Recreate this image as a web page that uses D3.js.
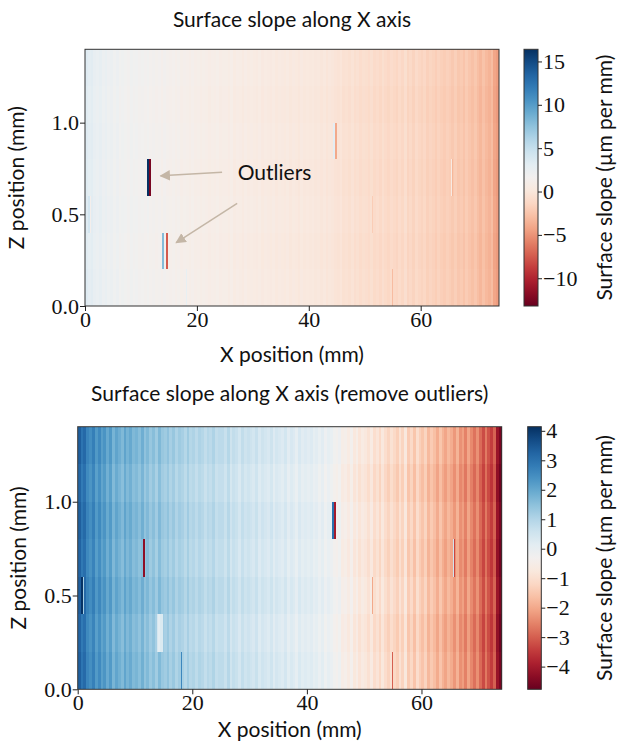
<!DOCTYPE html>
<html>
<head>
<meta charset="utf-8">
<script src="https://d3js.org/d3.v7.min.js"></script>
<style>
  body { margin: 0; background: #fff; }
  .tick text { font-family: "Liberation Serif", "Times New Roman", serif; font-size: 22px; fill: #111; }
  .tick line { stroke: #222; }
  .domain { display: none; }
  .lbl { font-family: Lato, "Open Sans", sans-serif; font-size: 21px; fill: #111; }
  .cell { shape-rendering: crispEdges; }
</style>
</head>
<body>
<svg id="fig" width="618" height="750"></svg>
<script>
// slope data: 0.5 mm wide strips along X, 7 rows of 0.2 mm along Z
var stripWidth = 0.5;
var rowEdges = [0, 0.2, 0.4, 0.6, 0.8, 1.0, 1.2, 1.4];

// mean slope per strip (um per mm)
var profile = [
  3.3, 2.9, 3.1, 2.6, 2.4, 2.7, 2.2, 2.5, 2.1, 2.3,
  1.9, 2.2, 1.7, 2.0, 1.8, 1.6, 2.0, 1.7, 1.9, 1.6,
  1.7, 1.5, 1.8, 1.4, 1.6, 1.3, 1.5, 1.2, 1.6, 1.3,
  1.2, 1.4, 1.1, 1.3, 1.0, 1.2, 1.1, 0.9, 1.2, 0.9,
  1.0, 0.8, 1.0, 0.9, 0.7, 0.9, 0.8, 1.0, 0.7, 0.8,
  0.8, 0.6, 0.9, 0.5, 0.7, 0.6, 0.4, 0.7, 0.5, 0.6,
  0.5, 0.4, 0.6, 0.3, 0.5, 0.4, 0.3, 0.5, 0.2, 0.4,
  0.3, 0.2, 0.4, 0.1, 0.3, 0.2, 0.0, 0.3, 0.1, 0.2,
  0.1, 0.2, 0.0, 0.1, -0.1, 0.1, -0.2, 0.0, -0.1, -0.3,
  -0.4, -0.2, -0.6, -0.5, -0.7, -0.4, -0.8, -0.6, -0.9, -0.7,
  -0.8, -1.0, -0.7, -1.1, -0.9, -1.2, -0.8, -1.1, -1.3, -1.0,
  -1.2, -1.4, -1.0, -1.3, -0.8, -1.5, -1.2, -1.6, -1.1, -1.4,
  -1.6, -1.3, -1.8, -1.5, -1.7, -2.0, -1.6, -1.9, -2.1, -1.8,
  -2.0, -2.3, -1.9, -2.4, -2.2, -2.6, -2.1, -2.5, -2.8, -2.4,
  -2.9, -3.3, -2.7, -3.2, -3.5, -3.0, -4.2, -4.6
];
// small offset of each Z row
var rowShift = [0.04, -0.05, 0.08, -0.03, 0.05, -0.07, 0.06];

// narrow features visible in both panels
var spikes = [
  {row: 2, x0: 0.6, x1: 0.85, v: 4.1},
  {row: 2, x0: 0.85, x1: 1.05, v: 1.2},
  {row: 0, x0: 18.0, x1: 18.2, v: 2.6},
  {row: 4, x0: 44.4, x1: 44.7, v: 3.0},
  {row: 4, x0: 44.7, x1: 45.0, v: -4.0},
  {row: 2, x0: 51.3, x1: 51.5, v: -2.0},
  {row: 0, x0: 54.8, x1: 55.0, v: -3.0},
  {row: 3, x0: 65.45, x1: 65.6, v: 0.5},
  {row: 3, x0: 65.6, x1: 65.8, v: -3.3}
];
// outliers: raw value (upper panel) and value after removal (lower panel)
var outliers = [
  {row: 3, x0: 11.0, x1: 11.4, raw: 16.4, cleaned: 1.6},
  {row: 3, x0: 11.4, x1: 11.8, raw: -12.5, cleaned: -4.3},
  {row: 1, x0: 13.8, x1: 14.1, raw: 8.0, cleaned: 0.4},
  {row: 1, x0: 14.1, x1: 14.4, raw: 1.6, cleaned: 0.1},
  {row: 1, x0: 14.4, x1: 14.8, raw: -7.5, cleaned: 0.3}
];

var xTicks = [0, 20, 40, 60];
var zTicks = [0, 0.5, 1.0];
var cbarTopRange = [-13.2, 16.4];
var cbarTopTicks = [-10, -5, 0, 5, 10, 15];
var cbarBottomRange = [-4.77, 4.14];
var cbarBottomTicks = [-4, -3, -2, -1, 0, 1, 2, 3, 4];
var xDomain = [0, 74];

// annotation in data coords of the upper panel
var labelPos = {x: 27.3, z: 0.725, text: "Outliers"};
var arrows = [
  {x0: 24.5, z0: 0.73, x1: 13.5, z1: 0.71},
  {x0: 27.2, z0: 0.56, x1: 16.3, z1: 0.345}
];

var baseCells = [];
rowShift.forEach(function (s, j) {
  profile.forEach(function (v, i) {
    baseCells.push({x0: i * stripWidth, x1: (i + 1) * stripWidth, z0: rowEdges[j], z1: rowEdges[j + 1], v: v + s});
  });
});
function extraCells(useRaw) {
  var out = spikes.map(function (d) {
    return {x0: d.x0, x1: d.x1, z0: rowEdges[d.row], z1: rowEdges[d.row + 1], v: d.v};
  });
  outliers.forEach(function (d) {
    out.push({x0: d.x0, x1: d.x1, z0: rowEdges[d.row], z1: rowEdges[d.row + 1], v: useRaw ? d.raw : d.cleaned});
  });
  return out;
}

var panels = [
  {title: "Surface slope along X axis", left: 85, right: 499, top: 49.3, bottom: 306,
   cbX: 524, cbW: 14, range: cbarTopRange, ticks: cbarTopTicks, raw: true,
   titleY: 27, xlabelY: 362, zlabelX: 17, annotate: true},
  {title: "Surface slope along X axis (remove outliers)", left: 77.7, right: 501.7, top: 426.7, bottom: 689.3,
   cbX: 527.7, cbW: 13.6, range: cbarBottomRange, ticks: cbarBottomTicks, raw: false,
   titleY: 401, xlabelY: 737, zlabelX: 19, annotate: false}
];

var svg = d3.select("#fig");
var defs = svg.append("defs");
defs.append("marker")
    .attr("id", "head")
    .attr("viewBox", "0 0 10 10")
    .attr("refX", 9).attr("refY", 5)
    .attr("markerWidth", 7).attr("markerHeight", 7)
    .attr("markerUnits", "strokeWidth")
    .attr("orient", "auto")
  .append("path")
    .attr("d", "M0,0 L10,5 L0,10 z")
    .attr("fill", "#c4b6a6");

panels.forEach(function (p, k) {
  var x = d3.scaleLinear().domain(xDomain).range([p.left, p.right]);
  var y = d3.scaleLinear().domain([0, 1.4]).range([p.bottom, p.top]);
  var lo = p.range[0], hi = p.range[1];
  var color = function (v) {
    if (v === null) return "#ffffff";
    return d3.interpolateRdBu(Math.max(0, Math.min(1, (v - lo) / (hi - lo))));
  };

  var cells = baseCells.concat(extraCells(p.raw));
  svg.append("g").selectAll("rect")
    .data(cells)
    .enter().append("rect")
    .attr("class", "cell")
    .attr("x", function (d) { return x(d.x0); })
    .attr("y", function (d) { return y(d.z1); })
    .attr("width", function (d) { return x(d.x1) - x(d.x0); })
    .attr("height", function (d) { return y(d.z0) - y(d.z1); })
    .attr("fill", function (d) { return color(d.v); });

  svg.append("rect")
    .attr("x", p.left).attr("y", p.top)
    .attr("width", p.right - p.left).attr("height", p.bottom - p.top)
    .attr("fill", "none").attr("stroke", "#333").attr("stroke-width", 1);

  svg.append("g")
    .attr("transform", "translate(0," + p.bottom + ")")
    .call(d3.axisBottom(x).tickValues(xTicks).tickSize(5).tickPadding(0));
  svg.append("g")
    .attr("transform", "translate(" + p.left + ",0)")
    .call(d3.axisLeft(y).tickValues(zTicks).tickFormat(d3.format(".1f")).tickSize(5).tickPadding(1));

  // colorbar
  var gid = "grad" + k;
  var grad = defs.append("linearGradient").attr("id", gid)
    .attr("x1", 0).attr("y1", 1).attr("x2", 0).attr("y2", 0);
  d3.range(0, 1.0001, 0.05).forEach(function (t) {
    grad.append("stop").attr("offset", t).attr("stop-color", d3.interpolateRdBu(t));
  });
  var cy = d3.scaleLinear().domain(p.range).range([p.bottom, p.top]);
  svg.append("rect")
    .attr("x", p.cbX).attr("y", p.top)
    .attr("width", p.cbW).attr("height", p.bottom - p.top)
    .attr("fill", "url(#" + gid + ")")
    .attr("stroke", "#333").attr("stroke-width", 1);
  svg.append("g")
    .attr("transform", "translate(" + (p.cbX + p.cbW) + ",0)")
    .call(d3.axisRight(cy).tickValues(p.ticks).tickSize(4).tickPadding(1));

  // texts
  svg.append("text").attr("class", "lbl")
    .attr("x", (p.left + p.right) / 2).attr("y", p.titleY)
    .attr("text-anchor", "middle").text(p.title);
  svg.append("text").attr("class", "lbl")
    .attr("x", (p.left + p.right) / 2).attr("y", p.xlabelY)
    .attr("text-anchor", "middle").text("X position (mm)");
  svg.append("text").attr("class", "lbl")
    .attr("transform", "translate(" + p.zlabelX + "," + ((p.top + p.bottom) / 2) + ") rotate(-90)")
    .attr("text-anchor", "middle").attr("dy", "0.35em").text("Z position (mm)");
  svg.append("text").attr("class", "lbl")
    .attr("transform", "translate(605," + ((p.top + p.bottom) / 2) + ") rotate(-90)")
    .attr("text-anchor", "middle").attr("dy", "0.35em").text("Surface slope (\u00b5m per mm)");

  if (p.annotate) {
    arrows.forEach(function (a) {
      svg.append("line")
        .attr("x1", x(a.x0)).attr("y1", y(a.z0))
        .attr("x2", x(a.x1)).attr("y2", y(a.z1))
        .attr("stroke", "#c4b6a6").attr("stroke-width", 1.5)
        .attr("marker-end", "url(#head)");
    });
    svg.append("text").attr("class", "lbl")
      .attr("x", x(labelPos.x)).attr("y", y(labelPos.z))
      .attr("dy", "0.35em").text(labelPos.text);
  }
});
</script>
</body>
</html>
